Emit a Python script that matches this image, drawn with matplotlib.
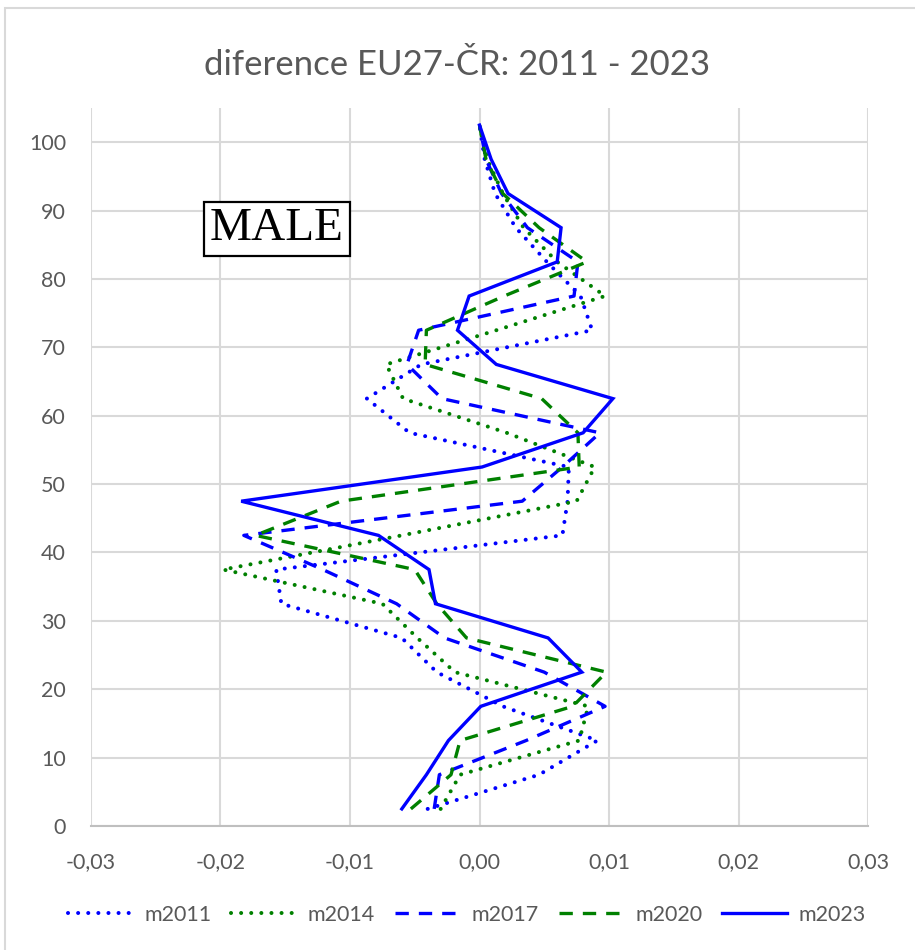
import matplotlib
matplotlib.use("Agg")
import matplotlib.pyplot as plt
from matplotlib.patches import Rectangle

# ---- data ----
age_mid = [2.5, 7.5, 12.5, 17.5, 22.5, 27.5, 32.5, 37.5, 42.5, 47.5, 52.5,
           57.5, 62.5, 67.5, 72.5, 77.5, 82.5, 87.5, 92.5, 97.5, 102.5]

m2011 = [-0.0040, 0.0046, 0.0091, 0.0018, -0.0033, -0.0060, -0.0153, -0.0157,
         0.0064, 0.0068, 0.0069, -0.0054, -0.0087, -0.0045, 0.0087, 0.0078,
         0.0052, 0.0028, 0.0012, 0.0004, 0.0000]
m2014 = [-0.0030, -0.0015, 0.0077, 0.0084, -0.0019, -0.0048, -0.0075, -0.0198,
         -0.0060, 0.0075, 0.0089, 0.0021, -0.0059, -0.0072, 0.0013, 0.0097,
         0.0060, 0.0034, 0.0018, 0.0006, 0.0000]
m2017 = [-0.0035, -0.0031, 0.0036, 0.0097, 0.0050, -0.0027, -0.0064, -0.0121,
         -0.0182, 0.0033, 0.0064, 0.0093, -0.0029, -0.0056, -0.0047, 0.0073,
         0.0076, 0.0037, 0.0017, 0.0005, 0.0000]
m2020 = [-0.0053, -0.0022, -0.0015, 0.0072, 0.0098, -0.0010, -0.0033, -0.0050,
         -0.0173, -0.0107, 0.0077, 0.0076, 0.0048, -0.0042, -0.0041, 0.0019,
         0.0083, 0.0046, 0.0018, 0.0005, 0.0000]
m2023 = [-0.0060, -0.0041, -0.0024, 0.0001, 0.0079, 0.0053, -0.0034, -0.0039,
         -0.0078, -0.0184, 0.0002, 0.0080, 0.0103, 0.0013, -0.0017, -0.0008,
         0.0060, 0.0063, 0.0022, 0.0009, 0.0000]

series_names = ["m2011", "m2014", "m2017", "m2020", "m2023"]
x_ticks = [-0.03, -0.02, -0.01, 0.00, 0.01, 0.02, 0.03]
x_tick_labels = ["-0,03", "-0,02", "-0,01", "0,00", "0,01", "0,02", "0,03"]
y_ticks = [0, 10, 20, 30, 40, 50, 60, 70, 80, 90, 100]
title = "diference EU27-ČR: 2011 - 2023"
box_label = "MALE"

# ---- style ----
plt.rcParams['font.family'] = ['Lato', 'DejaVu Sans']
TXT = "#595959"
GRID = "#D9D9D9"
BLUE = "#0000FF"
GREEN = "#008000"

fig = plt.figure(figsize=(9.15, 9.5), dpi=100)
fig.patch.set_facecolor("white")
fig.patches.append(Rectangle((5 / 915, -0.05), 1.2, 1.05 - 8 / 950,
                             transform=fig.transFigure, fill=False,
                             edgecolor=GRID, linewidth=1.5))

ax = fig.add_axes([91 / 915, 1 - 826 / 950, (868 - 91) / 915, (826 - 108) / 950])

dot = (0, (0.01, 2.5))
dash = (0, (4.0, 3.0))
styles = [
    (m2011, BLUE, dot, 'round', 2.9),
    (m2014, GREEN, dot, 'round', 2.9),
    (m2017, BLUE, dash, 'butt', 2.4),
    (m2020, GREEN, dash, 'butt', 2.4),
    (m2023, BLUE, '-', 'butt', 2.4),
]
for name, (vals, col, ls, cap, lw) in zip(series_names, styles):
    ax.plot(vals, age_mid, color=col, linestyle=ls, linewidth=lw,
            dash_capstyle=cap, solid_joinstyle='miter', label=name, zorder=3)

ax.set_xlim(-0.03, 0.03)
ax.set_ylim(0, 105)
ax.set_xticks(x_ticks)
ax.set_xticklabels(x_tick_labels)
ax.set_yticks(y_ticks)
ax.grid(True, color=GRID, linewidth=1.5, zorder=0)
ax.set_axisbelow(True)
for s in ["top", "right", "left"]:
    ax.spines[s].set_visible(False)
ax.spines["bottom"].set_color("#BFBFBF")
ax.spines["bottom"].set_linewidth(1.5)
ax.tick_params(axis='both', length=0, colors=TXT, labelsize=15.5)
ax.tick_params(axis='x', pad=19)
ax.tick_params(axis='y', pad=18)

fig.text(0.5, 1 - 65 / 950, title, ha='center', va='center',
         fontsize=25, color=TXT)

fig.text(277 / 915, 1 - 229 / 950, box_label, ha='center', va='center',
         fontsize=34, family=['Liberation Serif', 'DejaVu Serif'], color='black',
         bbox=dict(boxstyle='square,pad=0.12', facecolor='white',
                   edgecolor='black', linewidth=1.6))

leg = fig.legend(loc='center', bbox_to_anchor=(467 / 915, 1 - 915 / 950), ncol=5,
                 frameon=False, fontsize=15.5, handlelength=3.0,
                 handletextpad=0.55, columnspacing=0.93)
for t in leg.get_texts():
    t.set_color(TXT)

fig.savefig("out.png", dpi=100, facecolor="white")
